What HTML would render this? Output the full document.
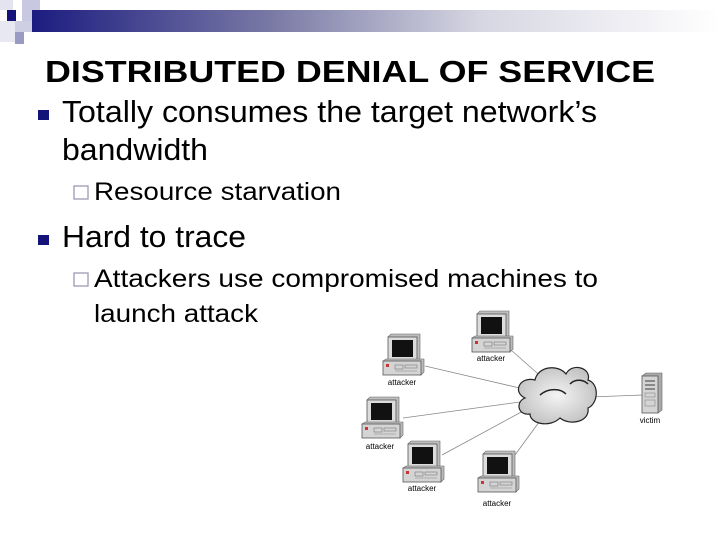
<!DOCTYPE html>
<html><head><meta charset="utf-8"><style>
html,body{margin:0;padding:0;background:#fff;}
svg{display:block;font-family:"Liberation Sans",Arial,sans-serif;}
</style></head><body>
<svg width="720" height="540" viewBox="0 0 720 540" xmlns="http://www.w3.org/2000/svg">
<defs>
<linearGradient id="bar" x1="0" x2="1" y1="0" y2="0">
<stop offset="0" stop-color="#1c1c80"/>
<stop offset="0.35" stop-color="#7a7aa6"/>
<stop offset="0.65" stop-color="#d6d6e2"/>
<stop offset="1" stop-color="#ffffff"/>
</linearGradient>
<radialGradient id="cl" cx="0.5" cy="0.5" r="0.6">
<stop offset="0" stop-color="#f4f4f4"/><stop offset="1" stop-color="#bdbdbd"/>
</radialGradient>
<g id="pc">
<path d="M5,2 L8,-1 L37,-1 L37,24 L34,26 Z" fill="#bdbdbd" stroke="#666" stroke-width="0.6"/>
<rect x="5" y="2" width="29" height="24" fill="#dcdcdc" stroke="#555" stroke-width="0.8"/>
<rect x="9" y="5" width="21" height="17" fill="#111"/>
<path d="M0,26 L3,24 L41,24 L41,37 L38,40 Z" fill="#bbb" stroke="#666" stroke-width="0.6"/>
<rect x="0" y="26" width="38" height="14" fill="#d4d4d4" stroke="#555" stroke-width="0.8"/>
<rect x="3" y="29" width="3" height="3" fill="#c33"/>
<rect x="12" y="30" width="8" height="4" fill="none" stroke="#777" stroke-width="0.6"/>
<rect x="22" y="30" width="12" height="3" fill="none" stroke="#777" stroke-width="0.6"/>
<line x1="12" y1="36" x2="34" y2="36" stroke="#888" stroke-width="0.6"/>
</g>
</defs>

<rect x="0" y="0" width="13" height="10" fill="#e4e4f0"/>
<rect x="22" y="0" width="18" height="22" fill="#c8c8e0"/>
<rect x="7" y="10" width="9" height="11" fill="#13137a"/>
<rect x="0" y="21" width="15" height="21" fill="#e8e8f2"/>
<rect x="15" y="21" width="17" height="11" fill="#cfcfe4"/>
<rect x="15" y="32" width="9" height="12" fill="#9a9ac4"/>
<rect x="32" y="10" width="688" height="22" fill="url(#bar)"/>

<text x="45" y="82" font-size="31" font-weight="bold" textLength="610" lengthAdjust="spacingAndGlyphs">DISTRIBUTED DENIAL OF SERVICE</text>
<rect x="38" y="110" width="11" height="10" fill="#13137a"/>
<text x="62" y="122" font-size="31" textLength="535" lengthAdjust="spacingAndGlyphs">Totally consumes the target network’s</text>
<text x="62" y="160" font-size="31" textLength="146" lengthAdjust="spacingAndGlyphs">bandwidth</text>
<rect x="74" y="186" width="14" height="13" fill="none" stroke="#9a9ab4" stroke-width="1.3"/>
<text x="94" y="200" font-size="25" textLength="247" lengthAdjust="spacingAndGlyphs">Resource starvation</text>
<rect x="38" y="235" width="11" height="10" fill="#13137a"/>
<text x="62" y="247" font-size="31" textLength="184" lengthAdjust="spacingAndGlyphs">Hard to trace</text>
<rect x="74" y="273" width="14" height="13" fill="none" stroke="#9a9ab4" stroke-width="1.3"/>
<text x="94" y="287" font-size="25" textLength="504" lengthAdjust="spacingAndGlyphs">Attackers use compromised machines to</text>
<text x="94" y="322" font-size="25" textLength="164" lengthAdjust="spacingAndGlyphs">launch attack</text>

<g stroke="#888" stroke-width="0.8">
<line x1="511" y1="350" x2="545" y2="380"/>
<line x1="425" y1="366" x2="528" y2="390"/>
<line x1="403" y1="418" x2="520" y2="402"/>
<line x1="442" y1="455" x2="525" y2="410"/>
<line x1="515" y1="455" x2="542" y2="418"/>
<line x1="590" y1="397" x2="643" y2="395"/>
</g>

<g>
<path d="M525,398 C512,392 520,376 535,380 C538,366 558,364 566,374 C572,362 592,368 588,380 C600,384 598,404 588,408 C590,422 570,426 560,418 C550,428 530,424 530,414 C518,416 515,402 525,398 Z" fill="url(#cl)" stroke="#222" stroke-width="1.2"/>
<path d="M540,395 C548,388 560,388 566,394" fill="none" stroke="#222" stroke-width="1.5"/>
<path d="M570,384 C576,378 584,380 588,384" fill="none" stroke="#222" stroke-width="1.5"/>
</g>

<g>
<path d="M642,376 L646,373 L662,373 L662,410 L658,413 Z" fill="#aaa" stroke="#666" stroke-width="0.6"/>
<rect x="642" y="376" width="16" height="37" fill="#d4d4d4" stroke="#555" stroke-width="0.8"/>
<rect x="645" y="380" width="10" height="2" fill="#888"/>
<rect x="645" y="384" width="10" height="2" fill="#888"/>
<rect x="645" y="388" width="10" height="2" fill="#888"/>
<rect x="645" y="393" width="10" height="4" fill="none" stroke="#888" stroke-width="0.6"/>
<rect x="645" y="400" width="10" height="6" fill="none" stroke="#888" stroke-width="0.6"/>
</g>
<text x="650" y="423" font-size="8" text-anchor="middle">victim</text>

<use href="#pc" x="472" y="312"/>
<text x="491" y="361" font-size="8" text-anchor="middle">attacker</text>
<use href="#pc" x="383" y="335"/>
<text x="402" y="385" font-size="8" text-anchor="middle">attacker</text>
<use href="#pc" x="362" y="398"/>
<text x="380" y="449" font-size="8" text-anchor="middle">attacker</text>
<use href="#pc" x="403" y="442"/>
<text x="422" y="491" font-size="8" text-anchor="middle">attacker</text>
<use href="#pc" x="478" y="452"/>
<text x="497" y="506" font-size="8" text-anchor="middle">attacker</text>
</svg>
</body></html>
